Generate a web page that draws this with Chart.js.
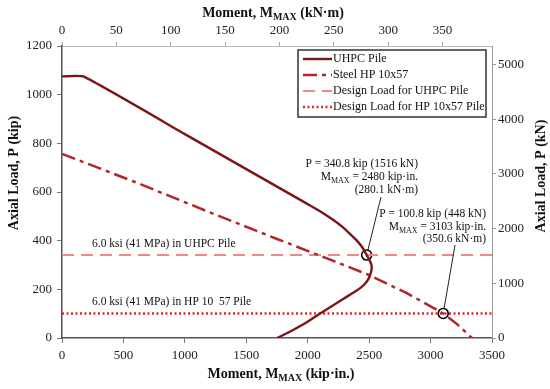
<!DOCTYPE html>
<html>
<head>
<meta charset="utf-8">
<script src="https://cdn.jsdelivr.net/npm/chart.js@4/dist/chart.umd.min.js"></script>
<style>
  html, body { margin: 0; padding: 0; background: #fff; }
</style>
</head>
<body>
<canvas id="graficoInteraccion" width="550" height="389"></canvas>
<script>
// Curva de interacción P-M del pilote UHPC (momento kip-in., carga kip)
const uhpcMomento = [0, 174, 1000, 2000, 2100, 2200, 2280, 2346, 2400, 2445, 2480, 2505, 2518, 2521, 2514, 2498, 2470, 2430, 2380, 2320, 2224, 2101, 1996, 1873, 1751];
const uhpcCarga   = [1075, 1075, 838, 550, 521, 488, 458, 427, 400, 372, 341, 318, 302, 290, 268, 246, 225, 206, 189, 170, 140, 101, 66, 31, 0];

// Curva de interacción del acero HP 10x57
const aceroMomento = [0, 600, 1200, 1735, 2183, 2480, 2807, 2943, 3103, 3220, 3337];
const aceroCarga   = [757, 640, 517, 410, 322, 263, 184, 146, 101, 55, 0];

// Cargas de diseño (líneas horizontales)
const disenoUhpcMomento = [0, 3500];
const disenoUhpcCarga   = [340.8, 340.8];
const disenoHpMomento   = [0, 3500];
const disenoHpCarga     = [100.8, 100.8];

// Puntos marcados con círculo
const puntosMomento = [2480, 3103];
const puntosCarga   = [340.8, 100.8];

// Etiquetas de los ejes
const ticksMomento = [0, 500, 1000, 1500, 2000, 2500, 3000, 3500];
const ticksKip     = [0, 200, 400, 600, 800, 1000, 1200];
const ticksKNm     = [0, 50, 100, 150, 200, 250, 300, 350];
const ticksKN      = [0, 1000, 2000, 3000, 4000, 5000];

const KIPIN_POR_KNM = 8.8507;
const KN_POR_KIP = 4.44822;

const serif = "'Liberation Serif', 'Times New Roman', serif";

function puntos(xs, ys) {
    return xs.map((v, i) => ({ x: v, y: ys[i] }));
}

// texto con subíndices: partes [{t, sub}]
function textoRico(ctx, partes, x, y, align, size, bold) {
    const fNormal = (bold ? 'bold ' : '') + size + 'px ' + serif;
    const fSub = (bold ? 'bold ' : '') + Math.round(size * 0.72) + 'px ' + serif;
    let ancho = 0;
    partes.forEach(p => {
        ctx.font = p.sub ? fSub : fNormal;
        ancho += ctx.measureText(p.t).width;
    });
    let cx = align === 'right' ? x - ancho : (align === 'center' ? x - ancho / 2 : x);
    ctx.textAlign = 'left';
    ctx.textBaseline = 'alphabetic';
    partes.forEach(p => {
        ctx.font = p.sub ? fSub : fNormal;
        ctx.fillText(p.t, cx, p.sub ? y + size * 0.22 : y);
        cx += ctx.measureText(p.t).width;
    });
}

const dibujoExtra = {
    id: 'dibujoExtra',
    afterDraw(chart) {
        const ctx = chart.ctx;
        const sx = chart.scales.x;
        const sy = chart.scales.y;
        ctx.save();
        ctx.fillStyle = '#111';

        // etiquetas de las cargas de diseño
        ctx.font = '11.5px ' + serif;
        ctx.textAlign = 'left';
        ctx.textBaseline = 'middle';
        ctx.fillText('6.0 ksi (41 MPa) in UHPC Pile', sx.getPixelForValue(245), sy.getPixelForValue(disenoUhpcCarga[0]) - 11);
        ctx.fillText('6.0 ksi (41 MPa) in HP 10  57 Pile', sx.getPixelForValue(245), sy.getPixelForValue(disenoHpCarga[0]) - 11);

        // anotaciones
        ctx.font = '11.5px ' + serif;
        ctx.textAlign = 'right';
        ctx.textBaseline = 'alphabetic';
        ctx.fillText('P = 340.8 kip (1516 kN)', 418, 167);
        textoRico(ctx, [{ t: 'M' }, { t: 'MAX', sub: true }, { t: ' = 2480 kip·in.' }], 418, 180, 'right', 11.5, false);
        ctx.font = '11.5px ' + serif;
        ctx.textAlign = 'right';
        ctx.fillText('(280.1 kN·m)', 418, 193);

        ctx.fillText('P = 100.8 kip (448 kN)', 486, 217);
        textoRico(ctx, [{ t: 'M' }, { t: 'MAX', sub: true }, { t: ' = 3103 kip·in.' }], 486, 230, 'right', 11.5, false);
        ctx.font = '11.5px ' + serif;
        ctx.textAlign = 'right';
        ctx.fillText('(350.6 kN·m)', 486, 242);

        // líneas guía hacia los círculos
        const guias = [[381, 197], [455, 245]];
        ctx.strokeStyle = '#222';
        ctx.lineWidth = 1;
        guias.forEach((g, i) => {
            const px = sx.getPixelForValue(puntosMomento[i]);
            const py = sy.getPixelForValue(puntosCarga[i]);
            const dx = px - g[0], dy = py - g[1];
            const d = Math.sqrt(dx * dx + dy * dy);
            ctx.beginPath();
            ctx.moveTo(g[0], g[1]);
            ctx.lineTo(px - dx / d * 5, py - dy / d * 5);
            ctx.stroke();
        });

        // leyenda
        const lx = 298, ly = 50, lw = 188, lh = 67;
        ctx.fillStyle = '#fff';
        ctx.fillRect(lx, ly, lw, lh);
        ctx.strokeStyle = '#333';
        ctx.lineWidth = 1.5;
        ctx.strokeRect(lx, ly, lw, lh);
        const filas = [59, 75, 91, 107];
        chart.data.datasets.slice(0, 4).forEach((ds, i) => {
            ctx.beginPath();
            ctx.strokeStyle = ds.borderColor;
            ctx.lineWidth = ds.borderWidth;
            ctx.setLineDash(ds.borderDash || []);
            ctx.moveTo(303, filas[i]);
            ctx.lineTo(332, filas[i]);
            ctx.stroke();
            ctx.setLineDash([]);
            ctx.fillStyle = '#111';
            ctx.font = '12px ' + serif;
            ctx.textAlign = 'left';
            ctx.textBaseline = 'middle';
            ctx.fillText(ds.label, 333, filas[i]);
        });

        // títulos de los ejes
        ctx.fillStyle = '#111';
        textoRico(ctx, [{ t: 'Moment, M' }, { t: 'MAX', sub: true }, { t: ' (kip·in.)' }], 281, 378, 'center', 14, true);
        textoRico(ctx, [{ t: 'Moment, M' }, { t: 'MAX', sub: true }, { t: ' (kN·m)' }], 273, 17, 'center', 14, true);

        ctx.save();
        ctx.translate(18, 173);
        ctx.rotate(-Math.PI / 2);
        ctx.font = 'bold 14px ' + serif;
        ctx.textAlign = 'center';
        ctx.textBaseline = 'alphabetic';
        ctx.fillText('Axial Load, P (kip)', 0, 0);
        ctx.restore();

        ctx.save();
        ctx.translate(545, 176);
        ctx.rotate(-Math.PI / 2);
        ctx.font = 'bold 14px ' + serif;
        ctx.textAlign = 'center';
        ctx.textBaseline = 'alphabetic';
        ctx.fillText('Axial Load, P (kN)', 0, 0);
        ctx.restore();

        ctx.restore();
    }
};

const fuenteTicks = { family: serif, size: 13 };
const sinComas = v => String(v);

function ejeFijo(valores) {
    return function (scale) {
        scale.ticks = valores.map(v => ({ value: v }));
    };
}

const ctxGrafico = document.getElementById('graficoInteraccion').getContext('2d');
new Chart(ctxGrafico, {
    type: 'scatter',
    data: {
        datasets: [
            {
                label: 'UHPC Pile',
                data: puntos(uhpcMomento, uhpcCarga),
                showLine: true,
                borderColor: '#7a1518',
                borderWidth: 2.4,
                pointRadius: 0,
                tension: 0.15
            },
            {
                label: 'Steel HP 10x57',
                data: puntos(aceroMomento, aceroCarga),
                showLine: true,
                borderColor: '#b0272b',
                borderWidth: 2.5,
                borderDash: [14, 5, 4, 5],
                pointRadius: 0,
                tension: 0
            },
            {
                label: 'Design Load for UHPC Pile',
                data: puntos(disenoUhpcMomento, disenoUhpcCarga),
                showLine: true,
                borderColor: '#ee8a86',
                borderWidth: 2,
                borderDash: [12, 7],
                pointRadius: 0
            },
            {
                label: 'Design Load for HP 10x57 Pile',
                data: puntos(disenoHpMomento, disenoHpCarga),
                showLine: true,
                borderColor: '#dc2b2f',
                borderWidth: 2.5,
                borderDash: [2, 2.5],
                pointRadius: 0
            },
            {
                label: 'puntos',
                data: puntos(puntosMomento, puntosCarga),
                showLine: false,
                pointRadius: 5,
                pointBorderColor: '#000',
                pointBorderWidth: 1.6,
                pointBackgroundColor: 'rgba(0,0,0,0)'
            }
        ]
    },
    options: {
        responsive: false,
        animation: false,
        layout: { padding: 0 },
        plugins: {
            legend: { display: false },
            tooltip: { enabled: false }
        },
        scales: {
            x: {
                type: 'linear',
                position: 'bottom',
                min: 0,
                max: 3500,
                afterBuildTicks: ejeFijo(ticksMomento),
                afterFit: s => { s.height = 51; },
                grid: { drawOnChartArea: false, tickLength: 5, color: '#777' },
                border: { color: '#555', width: 1.5 },
                ticks: { font: fuenteTicks, color: '#222', padding: 5, maxRotation: 0, autoSkip: false, callback: sinComas }
            },
            x2: {
                type: 'linear',
                axis: 'x',
                position: 'top',
                min: 0,
                max: 3500 / KIPIN_POR_KNM,
                afterBuildTicks: ejeFijo(ticksKNm),
                afterFit: s => { s.height = 46; },
                grid: { drawOnChartArea: false, tickLength: 4, color: '#aaa' },
                border: { color: '#bbb', width: 1 },
                ticks: { font: fuenteTicks, color: '#222', padding: 4, maxRotation: 0, autoSkip: false, callback: sinComas }
            },
            y: {
                type: 'linear',
                position: 'left',
                min: 0,
                max: 1200,
                afterBuildTicks: ejeFijo(ticksKip),
                afterFit: s => { s.width = 62; },
                grid: { drawOnChartArea: false, tickLength: 5, color: '#777' },
                border: { color: '#555', width: 1.5 },
                ticks: { font: fuenteTicks, color: '#222', padding: 5, autoSkip: false, callback: sinComas }
            },
            y2: {
                type: 'linear',
                axis: 'y',
                position: 'right',
                min: 0,
                max: 1200 * KN_POR_KIP,
                afterBuildTicks: ejeFijo(ticksKN),
                afterFit: s => { s.width = 58; },
                grid: { drawOnChartArea: false, tickLength: 4, color: '#999' },
                border: { color: '#999', width: 1 },
                ticks: { font: fuenteTicks, color: '#222', padding: 2, autoSkip: false, callback: sinComas }
            }
        }
    },
    plugins: [dibujoExtra]
});
</script>
</body>
</html>
